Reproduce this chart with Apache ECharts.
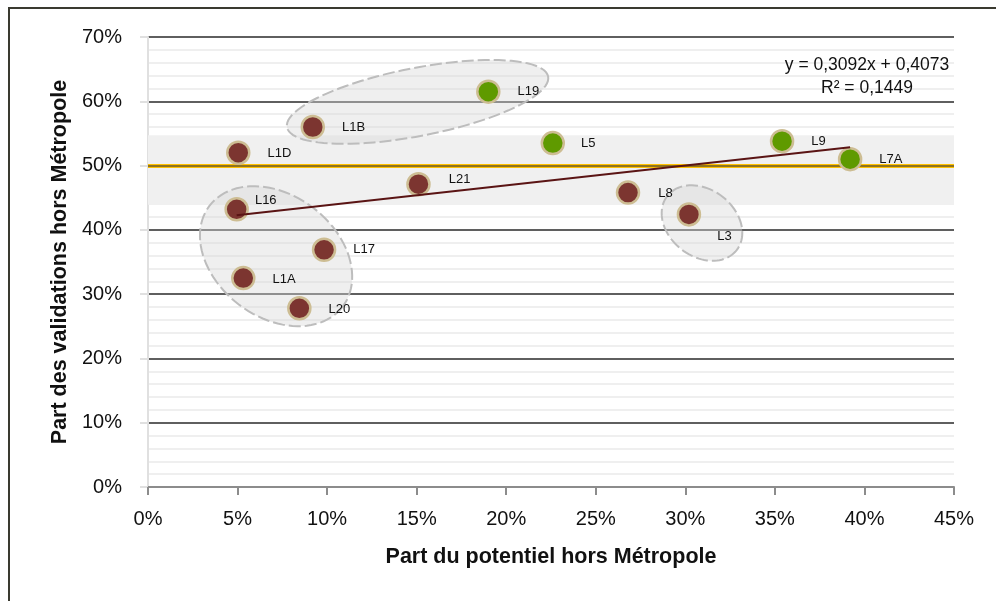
<!DOCTYPE html>
<html>
<head>
<meta charset="utf-8">
<script src="https://cdn.jsdelivr.net/npm/echarts@6/dist/echarts.min.js"></script>
<style>
html,body{margin:0;padding:0;background:#fff;}
#frame{position:absolute;left:8px;top:7px;width:1000px;height:600px;border-left:2px solid #3a3a30;border-top:2px solid #3a3a30;}
#chart{position:absolute;left:0;top:0;width:996px;height:601px;}
</style>
</head>
<body>
<div id="frame"></div>
<div id="chart"></div>
<script>
// ---- data ----
var lines = ['L1A','L1B','L1D','L3','L5','L7A','L8','L9','L16','L17','L19','L20','L21'];
var potentiel = [0.0532,0.092,0.0504,0.302,0.226,0.392,0.268,0.354,0.0495,0.0983,0.190,0.0845,0.151];
var validations = [0.325,0.560,0.520,0.424,0.535,0.510,0.458,0.538,0.432,0.369,0.615,0.278,0.471];
var groupe = ['r','r','r','r','g','g','r','g','r','r','g','r','r'];
var xTicks = [0,0.05,0.10,0.15,0.20,0.25,0.30,0.35,0.40,0.45];
var yTicks = [0,0.1,0.2,0.3,0.4,0.5,0.6,0.7];
var slope = 0.3092, intercept = 0.4073, r2 = 0.1449;
var bandLow = 0.439, bandHigh = 0.547, refLine = 0.5;
var ellipseCenters = [[0.1505,0.599],[0.0715,0.359],[0.3093,0.4106]];

// ---- styles ----
var FONT = "'Liberation Sans',Arial,sans-serif";
var colors = {r:'#7c3530', g:'#5f9a00'};
var labelOffsets = {L1A:[11,1],L1B:[11,0],L1D:[11,1],L3:[10,22],L5:[10,0],L7A:[11,0],L8:[12,1],L9:[11,0],L16:[0,-9],L17:[11,0],L19:[11,0],L20:[11,1],L21:[12,-5]};
var ellipseShapes = [{a:133,b:34,rot:-11},{a:83.5,b:61,rot:37},{a:44,b:33.4,rot:38}];

function pct(v){return Math.round(v*100)+'%';}

var chart = echarts.init(document.getElementById('chart'), null, {renderer:'canvas'});

var pts = lines.map(function(n,i){
  return {
    name:n, value:[potentiel[i],validations[i]],
    itemStyle:{color:colors[groupe[i]]},
    label:{offset:labelOffsets[n]}
  };
});
var xmin = Math.min.apply(null,potentiel), xmax = Math.max.apply(null,potentiel);
var trend = [[xmin, slope*xmin+intercept],[xmax, slope*xmax+intercept]];

var option = {
  animation:false,
  textStyle:{fontFamily:FONT},
  grid:{left:148,right:42,top:37,bottom:114},
  title:{
    text:'y = '+String(slope).replace('.',',')+'x + '+String(intercept).replace('.',',')+'\nR² = '+String(r2).replace('.',','),
    left:862, top:49, textAlign:'center',
    textStyle:{fontFamily:FONT,fontSize:17.5,fontWeight:'normal',color:'#111',lineHeight:23,align:'center'}
  },
  xAxis:{
    type:'value',min:xTicks[0],max:xTicks[xTicks.length-1],interval:0.05,
    name:'Part du potentiel hors Métropole',nameLocation:'middle',nameGap:59,
    nameTextStyle:{fontFamily:FONT,fontSize:21.5,fontWeight:'bold',color:'#111'},
    axisLine:{show:true,lineStyle:{color:'#8c8c8c',width:2}},
    axisTick:{show:true,length:8,lineStyle:{color:'#8c8c8c',width:2}},
    axisLabel:{formatter:pct,fontSize:20,color:'#111',margin:22,fontFamily:FONT},
    splitLine:{show:false}
  },
  yAxis:{
    type:'value',min:yTicks[0],max:yTicks[yTicks.length-1],interval:0.1,
    name:'Part des validations hors Métropole',nameLocation:'middle',nameGap:74,
    nameTextStyle:{fontFamily:FONT,fontSize:21.5,fontWeight:'bold',color:'#111'},
    axisLine:{show:true,lineStyle:{color:'#e0e0e0',width:2}},
    axisTick:{show:true,length:8,lineStyle:{color:'#e0e0e0',width:2}},
    axisLabel:{formatter:pct,fontSize:20,color:'#111',margin:26,fontFamily:FONT},
    splitLine:{show:true,lineStyle:{color:'#5f5f5f',width:2}},
    minorTick:{show:false,splitNumber:5},
    minorSplitLine:{show:true,lineStyle:{color:'#efefef',width:2}}
  },
  series:[
    {
      type:'line', data:[], z:1,
      markArea:{silent:true,z:1,itemStyle:{color:'#f0f0f0'},data:[[{yAxis:bandLow},{yAxis:bandHigh}]]},
      markLine:{silent:true,z:2,symbol:'none',label:{show:false},
        data:[
          {yAxis:refLine-0.003,lineStyle:{color:'#ffc000',width:4,type:'solid'}},
          {yAxis:refLine+0.0015,lineStyle:{color:'#6a5a2a',width:1.5,type:'solid'}}
        ]}
    },
    {
      type:'scatter', z:5, data:pts, symbolSize:22,
      itemStyle:{borderColor:'#cdbd93',borderWidth:2.5,opacity:1},
      label:{show:true,position:'right',distance:6,formatter:'{b}',fontSize:13,color:'#111',fontFamily:FONT}
    },
    {
      type:'line', z:6, data:trend, symbol:'none', silent:true,
      lineStyle:{color:'#5a1414',width:2}
    }
  ]
};
chart.setOption(option);

function ellipsePoints(cx,cy,a,b,rotDeg){
  var r = rotDeg*Math.PI/180, pts=[];
  for(var k=0;k<96;k++){
    var t = k/96*2*Math.PI;
    var x = a*Math.cos(t), y = b*Math.sin(t);
    pts.push([cx + x*Math.cos(r) - y*Math.sin(r), cy + x*Math.sin(r) + y*Math.cos(r)]);
  }
  return pts;
}
var gfx = ellipseCenters.map(function(c,i){
  var p = chart.convertToPixel({gridIndex:0}, c);
  var s = ellipseShapes[i];
  return {type:'polygon', z:3, silent:true,
    shape:{points:ellipsePoints(p[0],p[1],s.a,s.b,s.rot)},
    style:{fill:'rgba(215,215,215,0.4)',stroke:'#bdbdbd',lineWidth:2,lineDash:[12,4]}};
});
chart.setOption({graphic:gfx});
</script>
</body>
</html>
